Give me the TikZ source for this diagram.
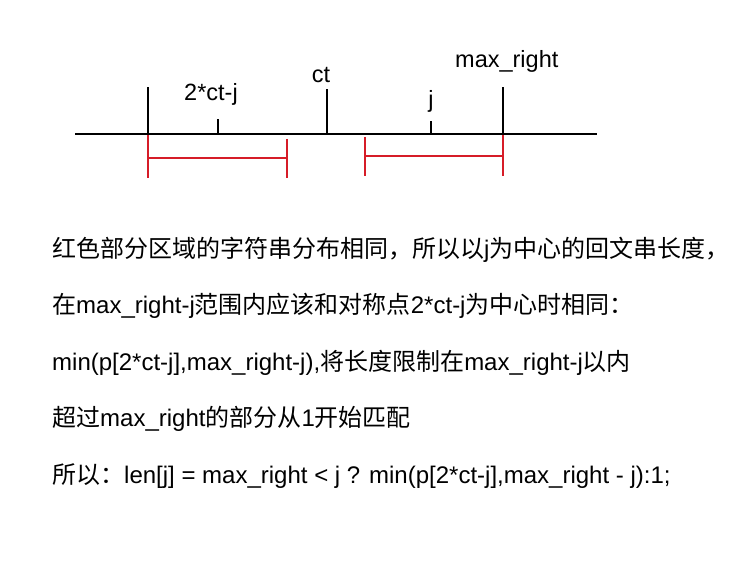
\documentclass[tikz,border=0pt]{standalone}
\usepackage{fontspec}
\setmainfont{Liberation Sans}
\newfontfamily\cjk{Noto Sans CJK SC}
\definecolor{redline}{RGB}{214,28,40}
\begin{document}
\begin{tikzpicture}[x=1pt,y=-1pt,
  axisline/.style={black,line width=1.6pt},
  redseg/.style={redline,line width=1.6pt},
  lbl/.style={inner sep=0pt,anchor=base,font=\fontsize{23.5}{26}\selectfont},
  txt/.style={inner sep=0pt,anchor=base west,font=\fontsize{24}{28}\selectfont}]
\useasboundingbox[fill=white] (0,0) rectangle (746,572);
% axis
\coordinate (aL) at (75,134);
\coordinate (aR) at (597,134);
\draw[axisline] (aL) -- (aR);
% ticks
\coordinate (t1b) at (148,134); \coordinate (t1t) at (148,87);
\coordinate (t2b) at (218,134); \coordinate (t2t) at (218,119);
\coordinate (t3b) at (327,134); \coordinate (t3t) at (327,89);
\coordinate (t4b) at (431,134); \coordinate (t4t) at (431,121);
\coordinate (t5b) at (503,134); \coordinate (t5t) at (503,87);
\draw[axisline] (t1b) -- (t1t);
\draw[axisline] (t2b) -- (t2t);
\draw[axisline] (t3b) -- (t3t);
\draw[axisline] (t4b) -- (t4t);
\draw[axisline] (t5b) -- (t5t);
% labels
\node[lbl] (l2ct) at (211,101) {2*ct-j};
\node[lbl] (lct) at (321,83) {ct};
\node[lbl] (lj) at (431,108) {j};
\node[lbl,anchor=base west] (lmax) at (455,68) {max\_right};
% red brackets
\coordinate (r1a) at (148,135); \coordinate (r1ab) at (148,178);
\coordinate (r1b) at (287,139); \coordinate (r1bb) at (287,178);
\coordinate (r1m) at (148,158); \coordinate (r1n) at (287,158);
\draw[redseg] (r1a) -- (r1ab);
\draw[redseg] (r1b) -- (r1bb);
\draw[redseg] (r1m) -- (r1n);
\coordinate (r2a) at (365,137); \coordinate (r2ab) at (365,176);
\coordinate (r2b) at (503,135); \coordinate (r2bb) at (503,176);
\coordinate (r2m) at (365,156); \coordinate (r2n) at (503,156);
\draw[redseg] (r2a) -- (r2ab);
\draw[redseg] (r2b) -- (r2bb);
\draw[redseg] (r2m) -- (r2n);
% text lines
\node[txt] (line1) at (52,257) {{\cjk 红色部分区域的字符串分布相同，所以以}j{\cjk 为中心的回文串长度，}};
\node[txt] (line2) at (52,313.5) {{\cjk 在}max\_right-j{\cjk 范围内应该和对称点}2*ct-j{\cjk 为中心时相同：}};
\node[txt] (line3) at (52,370) {min(p[2*ct-j],max\_right-j),{\cjk 将长度限制在}max\_right-j{\cjk 以内}};
\node[txt] (line4) at (52,426.5) {{\cjk 超过}max\_right{\cjk 的部分从}1{\cjk 开始匹配}};
\node[txt] (line5) at (52,483) {{\cjk 所以：}len[j] = max\_right < j ? min(p[2*ct-j],max\_right - j):1;};
\end{tikzpicture}
\end{document}
